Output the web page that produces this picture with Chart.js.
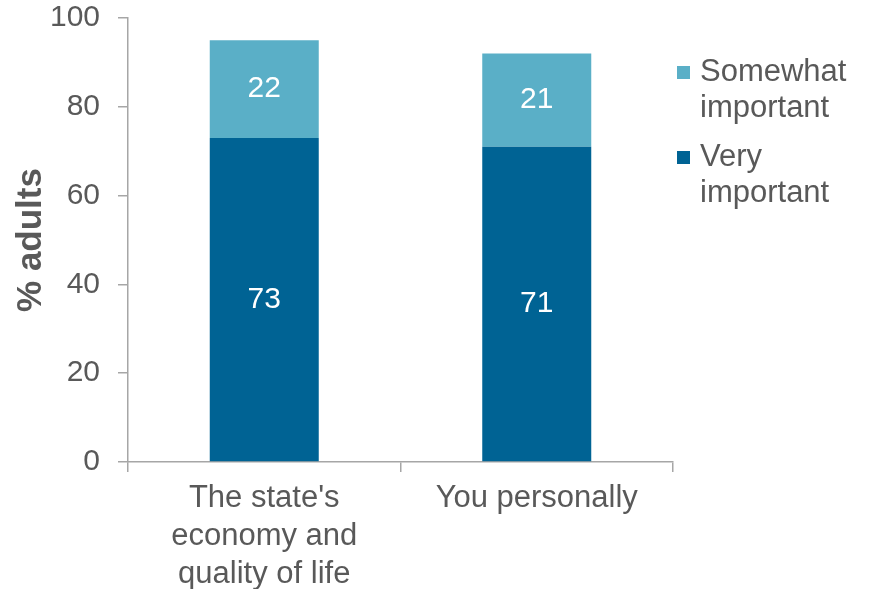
<!DOCTYPE html>
<html>
<head>
<meta charset="utf-8">
<script src="https://cdn.jsdelivr.net/npm/chart.js@4"></script>
<style>
  html, body { margin: 0; padding: 0; background: #fff; }
  #wrap { position: relative; width: 869px; height: 589px; }
  #legend { position: absolute; left: 677px; top: 53px; font-family: "Liberation Sans", Arial, sans-serif; font-size: 31px; line-height: 36px; color: #595959; }
  .item { display: flex; align-items: flex-start; margin-bottom: 13px; }
  .sw { width: 13px; height: 13px; margin-top: 13px; margin-right: 10px; flex: none; }
</style>
</head>
<body>
<div id="wrap">
  <canvas id="chart" width="869" height="589"></canvas>
  <div id="legend"></div>
</div>
<script>
const categories = [["The state's", "economy and", "quality of life"], "You personally"];
const veryImportant = [73, 71];
const somewhatImportant = [22, 21];
const yTicks = [0, 20, 40, 60, 80, 100];

const darkBlue = '#006394';
const lightBlue = '#5aafc7';
const grey = '#595959';
const axisGrey = '#a6a6a6';
const family = '"Liberation Sans", Arial, sans-serif';

// legend (stacked top series first)
const legendItems = [
    { label: ['Somewhat', 'important'], color: lightBlue },
    { label: ['Very', 'important'], color: darkBlue }
];
const legendBox = document.getElementById('legend');
legendItems.forEach(it => {
    const div = document.createElement('div');
    div.className = 'item';
    div.innerHTML = `<span class="sw" style="background:${it.color}"></span><span>${it.label.join('<br>')}</span>`;
    legendBox.appendChild(div);
});

// value labels in the middle of each segment
const valueLabels = {
    id: 'valueLabels',
    afterDatasetsDraw(chart) {
        const ctx = chart.ctx;
        ctx.save();
        ctx.font = '30px ' + family;
        ctx.fillStyle = '#ffffff';
        ctx.textAlign = 'center';
        ctx.textBaseline = 'middle';
        chart.data.datasets.forEach((ds, i) => {
            chart.getDatasetMeta(i).data.forEach((bar, j) => {
                const y = (bar.y + bar.base) / 2;
                ctx.fillText(ds.data[j], bar.x, y);
            });
        });
        ctx.restore();
    }
};

new Chart(document.getElementById('chart').getContext('2d'), {
    type: 'bar',
    data: {
        labels: categories,
        datasets: [
            { label: 'Very important', data: veryImportant, backgroundColor: darkBlue },
            { label: 'Somewhat important', data: somewhatImportant, backgroundColor: lightBlue }
        ]
    },
    options: {
        responsive: false,
        animation: false,
        layout: { padding: { left: 0, right: 196, top: 18, bottom: 0 } },
        plugins: { legend: { display: false }, tooltip: { enabled: false } },
        datasets: { bar: { barPercentage: 0.4, categoryPercentage: 1 } },
        scales: {
            x: {
                stacked: true,
                afterFit(scale) { scale.height = 127; scale.paddingLeft = 0; scale.paddingRight = 0; },
                grid: { offset: true, drawOnChartArea: false, drawTicks: true, tickLength: 10, color: axisGrey, lineWidth: 1.5 },
                border: { color: axisGrey, width: 1.5 },
                ticks: { color: grey, padding: 8, font: { family: family, size: 31, lineHeight: 1.22 }, maxRotation: 0 }
            },
            y: {
                stacked: true,
                min: 0,
                max: 100,
                afterFit(scale) { scale.width = 128; scale.paddingTop = 0; scale.paddingBottom = 0; },
                afterBuildTicks(scale) { scale.ticks = yTicks.map(v => ({ value: v })); },
                grid: { drawOnChartArea: false, drawTicks: true, tickLength: 10, color: axisGrey, lineWidth: 1.5 },
                border: { color: axisGrey, width: 1.5 },
                ticks: { color: grey, padding: 18, font: { family: family, size: 30 } },
                title: { display: true, text: '% adults', color: grey, padding: { top: 10, bottom: 0 }, font: { family: family, size: 35, weight: 'bold' } }
            }
        }
    },
    plugins: [valueLabels]
});
</script>
</body>
</html>
